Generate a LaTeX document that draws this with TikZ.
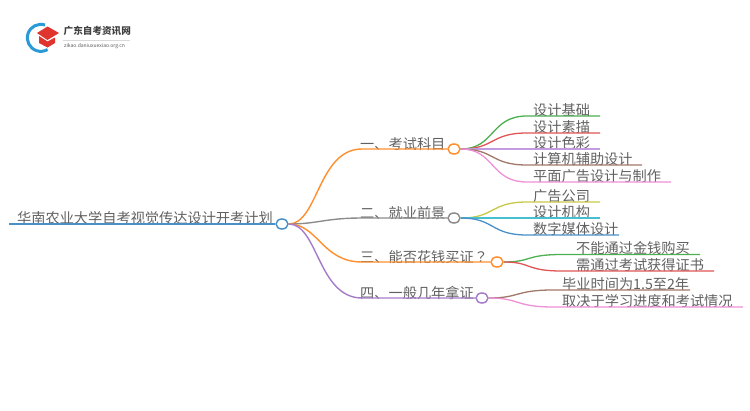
\documentclass[tikz,border=0pt]{standalone}
\usepackage{fontspec}
\setmainfont{Noto Sans CJK SC}
\newfontfamily\cjktc{Noto Sans CJK TC}
\usetikzlibrary{positioning, shapes.geometric}
\definecolor{capred}{HTML}{E0342F}
\definecolor{logoblue}{HTML}{2A9AD6}
\definecolor{lineblue}{HTML}{4A90C8}
\definecolor{lineorange}{HTML}{FF8F2E}
\definecolor{linegray}{HTML}{8C8C8C}
\definecolor{linegreen}{HTML}{4CAF50}
\definecolor{linered}{HTML}{E05555}
\definecolor{linepurple}{HTML}{A57CCB}
\definecolor{linelilac}{HTML}{C39BE0}
\definecolor{linebrown}{HTML}{A07868}
\definecolor{linepink}{HTML}{EE90D5}
\definecolor{lineyellow}{HTML}{C8C848}
\definecolor{linecyan}{HTML}{45C0D0}
\tikzset{
  hub/.style={ellipse, draw=#1, fill=white, line width=1.5pt, minimum width=12pt, minimum height=10pt, inner sep=0pt},
  leaf/.style={anchor=south west, inner sep=0pt, font=\fontsize{14.2}{15}\selectfont, text=black!62},
  trunk/.style={line width=1.4pt},
  twig/.style={line width=1.3pt},
}
\begin{document}
\begin{tikzpicture}[x=1pt, y=-1pt]
    \useasboundingbox (0,0) rectangle (750,410);

    % Logo
    \draw[logoblue, line width=3pt] (45,25) arc[start angle=-72, end angle=-300, radius=13.5];
    \fill[capred] (47.5,26.5) -- (59,33) -- (47.5,40) -- (37,33) -- cycle;
    \fill[capred] (39,36) -- (47.5,41.5) -- (55,37.5) -- (55,43) -- (47.5,47.5) -- (39,43) -- cycle;
    \node (logotitle) [anchor=west, inner sep=0pt, font=\fontsize{9.6}{10}\selectfont\bfseries, text=black!75] at (63.5,31) {广东自考资讯网};
    \node (logourl) [anchor=west, inner sep=0pt, font=\fontsize{5}{6}\selectfont, text=black!65] at (64,46) {zikao.daniuxuexiao.org.cn};
    \draw[black!15, line width=0.4pt] (63,40) -- (130,40);

    % Nodes
    \coordinate (rootstart) at (9,224);
    \node (root) [hub=lineblue] at (282,224) {};
    \node (kaoshi) [hub=lineorange] at (454,149) {};
    \node (jiuye) [hub=linegray] at (454,218) {};
    \node (huaqian) [hub=lineorange] at (497,262) {};
    \node (jinian) [hub=linepurple] at (482,298) {};

    % Labels
    \node (roottext) [leaf] at (17,224.5) {华南农业大学自考视觉传达设计开考计划};
    \node (kaoshitext) [leaf] at (360,151) {一、考试科目};
    \node (jiuyetext) [leaf] at (360,220) {二、就业前景};
    \node (huaqiantext) [leaf] at (360,264) {三、能否花钱买证{\cjktc ？}};
    \node (jiniantext) [leaf] at (360,299.5) {四、一般几年拿证};

    \node (jichu) [leaf] at (533,117) {设计基础};
    \node (sumiao) [leaf] at (533,133.5) {设计素描};
    \node (secai) [leaf] at (533,150) {设计色彩};
    \node (jisuanji) [leaf] at (533,166) {计算机辅助设计};
    \node (pingmian) [leaf] at (533,183) {平面广告设计与制作};
    \node (guanggao) [leaf] at (533,202.5) {广告公司};
    \node (jigou) [leaf] at (533,219) {设计机构};
    \node (meiti) [leaf] at (533,236) {数字媒体设计};
    \node (buneng) [leaf] at (576,255) {不能通过金钱购买};
    \node (xutong) [leaf] at (576,272) {需通过考试获得证书};
    \node (biye) [leaf] at (562,291) {毕业时间为1.5至2年};
    \node (quyue) [leaf] at (562,308) {取决于学习进度和考试情况};

    % Edges
    \draw[lineblue, trunk] (rootstart) -- (root.west);
    \draw[lineorange, trunk] (root.east) .. controls (318,224) and (318,149) .. (362,149) -- (kaoshi.west);
    \draw[linegray, trunk] (root.east) .. controls (318,224) and (325,218) .. (362,218) -- (jiuye.west);
    \draw[lineorange, trunk] (root.east) .. controls (318,224) and (322,262) .. (362,262) -- (huaqian.west);
    \draw[linepurple, trunk] (root.east) .. controls (318,224) and (318,298) .. (362,298) -- (jinian.west);

    \draw[linegreen, twig] (kaoshi.east) .. controls (495,149) and (490,116) .. (527,116) -- (600,116);
    \draw[linered, twig] (kaoshi.east) .. controls (495,149) and (490,133) .. (527,133) -- (600,133);
    \draw[linelilac, twig] (kaoshi.east) -- (600,149);
    \draw[linebrown, twig] (kaoshi.east) .. controls (495,149) and (490,165) .. (527,165) -- (642,165);
    \draw[linepink, twig] (kaoshi.east) .. controls (495,149) and (490,182) .. (527,182) -- (671,182);

    \draw[lineyellow, twig] (jiuye.east) .. controls (495,218) and (490,202) .. (527,202) -- (600,202);
    \draw[linecyan, twig] (jiuye.east) -- (600,218);
    \draw[lineblue, twig] (jiuye.east) .. controls (495,218) and (490,235) .. (527,235) -- (619,235);

    \draw[linegreen, twig] (huaqian.east) .. controls (532,262) and (525,254.5) .. (562,254.5) -- (700,254.5);
    \draw[linered, twig] (huaqian.east) .. controls (532,262) and (525,271) .. (562,271) -- (714,271);

    \draw[linebrown, twig] (jinian.east) .. controls (520,298) and (515,290) .. (553,290) -- (690,290);
    \draw[linepink, twig] (jinian.east) .. controls (520,298) and (515,307) .. (553,307) -- (743,307);
\end{tikzpicture}
\end{document}
